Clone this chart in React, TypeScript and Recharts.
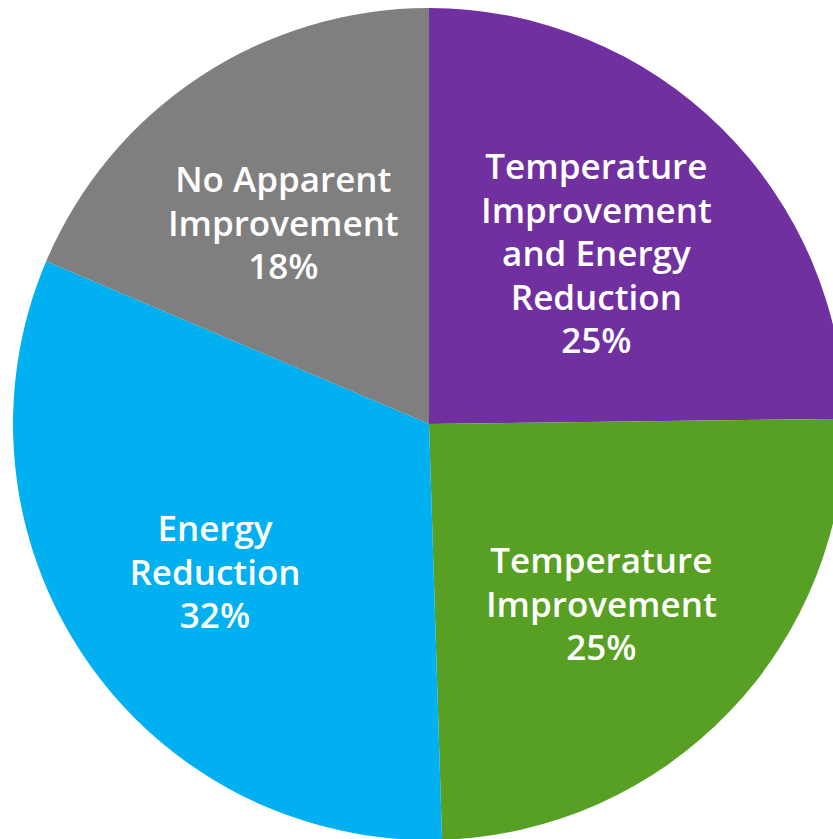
import { PieChart, Pie, Cell } from "recharts";

const categories = [
  "Temperature Improvement and Energy Reduction",
  "Temperature Improvement",
  "Energy Reduction",
  "No Apparent Improvement",
];
const labelLines = [
  ["Temperature", "Improvement", "and Energy", "Reduction"],
  ["Temperature", "Improvement"],
  ["Energy", "Reduction"],
  ["No Apparent", "Improvement"],
];
const shares = [24.8, 24.7, 31.9, 18.6];
const percentLabels = ["25%", "25%", "32%", "18%"];
const colors = ["#7030A0", "#57A023", "#00B0F0", "#7F7F7F"];

const data = categories.map((name, i) => ({ name, value: shares[i] }));

const RAD = Math.PI / 180;

function SliceLabel(props: any) {
  const { cx, cy, midAngle, outerRadius, index } = props;
  const r = outerRadius * 0.6;
  const x = cx - 8 + r * Math.cos(-midAngle * RAD);
  const y = cy + 6 + r * Math.sin(-midAngle * RAD);
  const lines = [...labelLines[index], percentLabels[index]];
  const lh = 43.5;
  const top = y - ((lines.length - 1) * lh) / 2;
  return (
    <text
      x={x}
      y={top}
      fill="#fff"
      textAnchor="middle"
      dominantBaseline="central"
      fontFamily="'Open Sans', sans-serif"
      fontWeight={600}
      fontSize={35}
    >
      {lines.map((l, i) => (
        <tspan key={i} x={x} y={top + i * lh}>
          {l}
        </tspan>
      ))}
    </text>
  );
}

export default function App() {
  return (
    <div style={{ position: "absolute", left: 0, top: 0, width: 833, height: 839, background: "#fff" }}>
      <PieChart width={833} height={839} margin={{ top: 0, right: 0, bottom: 0, left: 0 }}>
        <Pie
          data={data}
          dataKey="value"
          cx={429}
          cy={424}
          outerRadius={416}
          startAngle={90}
          endAngle={-270}
          stroke="none"
          label={SliceLabel}
          labelLine={false}
          isAnimationActive={false}
        >
          {data.map((d, i) => (
            <Cell key={d.name} fill={colors[i]} />
          ))}
        </Pie>
      </PieChart>
    </div>
  );
}
